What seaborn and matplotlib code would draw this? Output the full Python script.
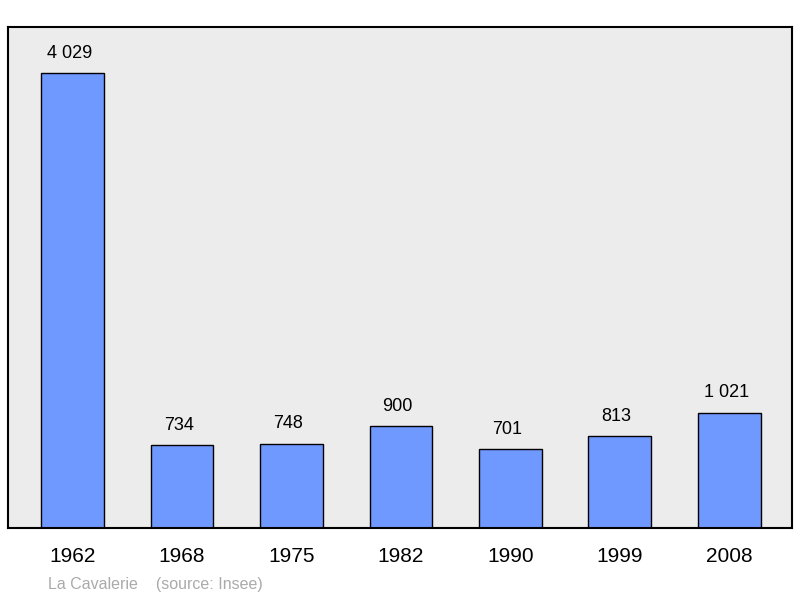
import matplotlib
matplotlib.use("Agg")
import matplotlib.pyplot as plt
import seaborn as sns
import pandas as pd

years = ["1962", "1968", "1975", "1982", "1990", "1999", "2008"]
population = [4029, 734, 748, 900, 701, 813, 1021]
labels = ["4 029", "734", "748", "900", "701", "813", "1 021"]

df = pd.DataFrame({"year": years, "pop": population})

fig = plt.figure(figsize=(8, 5.98), dpi=100)
ax = fig.add_axes([8/800, 1-528/598, 784/800, 501/598])
ax.set_facecolor("#ececec")
sns.barplot(data=df, x="year", y="pop", ax=ax, color="#7099ff", saturation=1,
            width=0.575, edgecolor="black", linewidth=1)
for i, (v, l) in enumerate(zip(population, labels)):
    ax.text(i - 0.03, v + 100, l, ha="center", va="bottom", fontsize=13, family="Liberation Sans")
ax.set_xlim(-0.589, 6.571)
ax.set_ylim(0, 4437)
ax.set_yticks([])
ax.set_xlabel("")
ax.set_ylabel("")
ax.tick_params(axis="x", length=0, pad=14, labelsize=15)
for t in ax.get_xticklabels():
    t.set_family("Liberation Sans")
for s in ax.spines.values():
    s.set_linewidth(1.5)
fig.text(48/800, 1-584/598, "La Cavalerie    (source: Insee)", color="#aaaaaa",
         fontsize=11.5, family="Liberation Sans", va="center")
fig.savefig("out.png", dpi=100)
